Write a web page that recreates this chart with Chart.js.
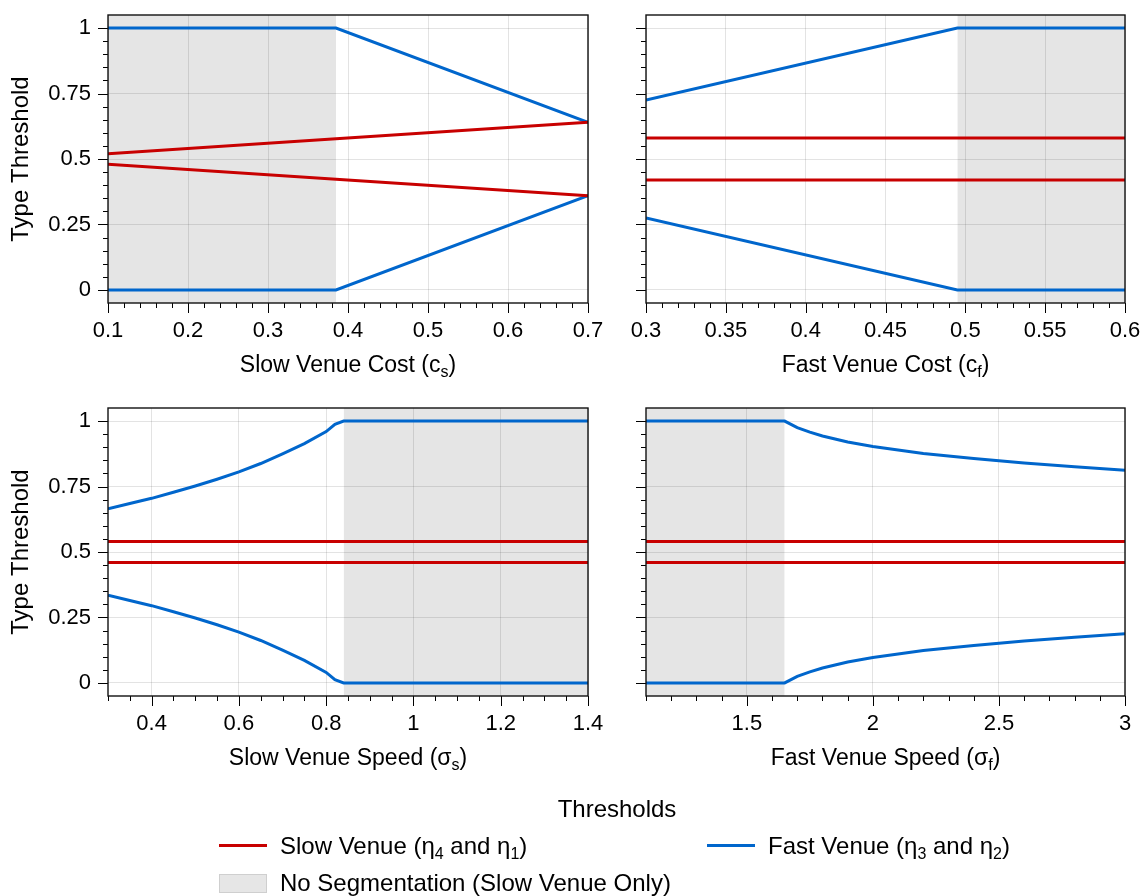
<!DOCTYPE html>
<html>
<head>
<meta charset="utf-8">
<script src="https://cdn.jsdelivr.net/npm/chart.js@4.4.0/dist/chart.umd.min.js"></script>
<style>
  body { margin: 0; background: #fff; }
  #wrap { position: relative; width: 1146px; height: 896px; overflow: hidden; font-family: "Liberation Sans", Arial, sans-serif; color: #000; }
  #wrap canvas { position: absolute; left: 0; top: 0; }
  .lg { position: absolute; font-size: 24px; line-height: 28px; white-space: nowrap; }
  .lg sub { font-size: 16px; vertical-align: -5px; line-height: 0; }
  .sw { position: absolute; }
</style>
</head>
<body>
<div id="wrap">
  <canvas id="c1" width="1146" height="896"></canvas>
  <canvas id="c2" width="1146" height="896"></canvas>
  <canvas id="c3" width="1146" height="896"></canvas>
  <canvas id="c4" width="1146" height="896"></canvas>

  <div class="lg" style="left:0;width:1234px;text-align:center;top:795px;">Thresholds</div>
  <div class="sw" style="left:219px;top:844px;width:48px;height:3px;background:#c80000;"></div>
  <div class="lg" style="left:280px;top:832px;">Slow Venue (η<sub>4</sub> and η<sub>1</sub>)</div>
  <div class="sw" style="left:707px;top:844px;width:48px;height:3px;background:#0066cc;"></div>
  <div class="lg" style="left:768px;top:832px;">Fast Venue (η<sub>3</sub> and η<sub>2</sub>)</div>
  <div class="sw" style="left:219px;top:874px;width:46px;height:17px;background:#e6e6e6;border:1px solid #cfcfcf;"></div>
  <div class="lg" style="left:280px;top:869px;">No Segmentation (Slow Venue Only)</div>
</div>
<script>
const red = '#c80000'
const blue = '#0066cc'
const shadeColor = 'rgba(0,0,0,0.1)'
const gridColor = 'rgba(0,0,0,0.11)'

// y axis (shared)
const yMin = -0.05, yMax = 1.05, yMinor = 0.05, yMajor = 0.25

// slow venue cost
const csX = [0.1, 0.385, 0.7]
const csSlowHi = [0.52, 0.577, 0.64]
const csSlowLo = [0.48, 0.423, 0.36]
const csFastHi = [1, 1, 0.64]
const csFastLo = [0, 0, 0.36]
const csShade = [0.1, 0.385]

// fast venue cost
const cfX = [0.3, 0.495, 0.6]
const cfSlowHi = [0.58, 0.58, 0.58]
const cfSlowLo = [0.42, 0.42, 0.42]
const cfFastHi = [0.725, 1, 1]
const cfFastLo = [0.275, 0, 0]
const cfShade = [0.495, 0.6]

// slow venue speed
const ssX = [0.3, 0.35, 0.4, 0.45, 0.5, 0.55, 0.6, 0.65, 0.7, 0.75, 0.8, 0.82, 0.84, 1.4]
const ssSlowHi = [0.54, 0.54, 0.54, 0.54, 0.54, 0.54, 0.54, 0.54, 0.54, 0.54, 0.54, 0.54, 0.54, 0.54]
const ssSlowLo = [0.46, 0.46, 0.46, 0.46, 0.46, 0.46, 0.46, 0.46, 0.46, 0.46, 0.46, 0.46, 0.46, 0.46]
const ssFastHi = [0.665, 0.685, 0.705, 0.728, 0.752, 0.778, 0.806, 0.838, 0.875, 0.914, 0.96, 0.988, 1, 1]
const ssFastLo = [0.335, 0.315, 0.295, 0.272, 0.248, 0.222, 0.194, 0.162, 0.125, 0.086, 0.04, 0.012, 0, 0]
const ssShade = [0.84, 1.4]

// fast venue speed
const sfX = [1.1, 1.65, 1.7, 1.75, 1.8, 1.9, 2.0, 2.2, 2.4, 2.6, 2.8, 3.0]
const sfSlowHi = [0.54, 0.54, 0.54, 0.54, 0.54, 0.54, 0.54, 0.54, 0.54, 0.54, 0.54, 0.54]
const sfSlowLo = [0.46, 0.46, 0.46, 0.46, 0.46, 0.46, 0.46, 0.46, 0.46, 0.46, 0.46, 0.46]
const sfFastHi = [1, 1, 0.975, 0.958, 0.943, 0.92, 0.903, 0.876, 0.857, 0.84, 0.826, 0.812]
const sfFastLo = [0, 0, 0.025, 0.042, 0.057, 0.08, 0.097, 0.124, 0.143, 0.16, 0.174, 0.188]
const sfShade = [1.1, 1.65]

const FONT = '"Liberation Sans", Arial, sans-serif'
const TICK_SIZE = 22
const TITLE_SIZE = 23
const SUB_SIZE = 16

function isMajor(v, step) {
  const q = v / step
  return Math.abs(q - Math.round(q)) < 1e-6
}
function fmt(v) {
  return String(parseFloat(v.toFixed(4)))
}
function pts(xs, ys) {
  return xs.map((x, i) => ({x: x, y: ys[i]}))
}
function line(xs, ys, color) {
  return {data: pts(xs, ys), borderColor: color, borderWidth: 3, pointRadius: 0, fill: false, order: 1}
}

function makePanel(id, p) {
  const W = 1146, H = 896
  const yW = p.yLabels ? 108 : 20
  const xH = 40
  const a = p.area

  const panelPlugin = {
    id: 'panel' + id,
    afterDraw(chart) {
      const ctx = chart.ctx
      const ca = chart.chartArea
      ctx.save()
      // tick marks, major and minor
      ctx.strokeStyle = '#000'
      ctx.lineWidth = 1
      ctx.beginPath()
      const ys = chart.scales.y
      ys.ticks.forEach(t => {
        if (t.value < -1e-9 || t.value > 1 + 1e-9) return
        const py = Math.round(ys.getPixelForValue(t.value)) + 0.5
        const len = isMajor(t.value, yMajor) ? 10 : 5
        ctx.moveTo(ca.left - len, py)
        ctx.lineTo(ca.left, py)
      })
      const xs = chart.scales.x
      xs.ticks.forEach(t => {
        const px = Math.round(xs.getPixelForValue(t.value)) + 0.5
        const len = isMajor(t.value, p.xMajor) ? 10 : 5
        ctx.moveTo(px, ca.bottom)
        ctx.lineTo(px, ca.bottom + len)
      })
      ctx.stroke()
      // frame
      ctx.lineWidth = 1.4
      ctx.strokeStyle = '#111'
      ctx.strokeRect(ca.left, ca.top, ca.right - ca.left, ca.bottom - ca.top)
      // x title with subscript
      ctx.fillStyle = '#000'
      ctx.textBaseline = 'alphabetic'
      ctx.textAlign = 'left'
      ctx.font = TITLE_SIZE + 'px ' + FONT
      const w1 = ctx.measureText(p.xTitle[0]).width
      const w3 = ctx.measureText(p.xTitle[2]).width
      ctx.font = SUB_SIZE + 'px ' + FONT
      const w2 = ctx.measureText(p.xTitle[1]).width
      let x = (ca.left + ca.right) / 2 - (w1 + w2 + w3) / 2
      const by = ca.bottom + 69
      ctx.font = TITLE_SIZE + 'px ' + FONT
      ctx.fillText(p.xTitle[0], x, by)
      x += w1
      ctx.font = SUB_SIZE + 'px ' + FONT
      ctx.fillText(p.xTitle[1], x, by + 5)
      x += w2
      ctx.font = TITLE_SIZE + 'px ' + FONT
      ctx.fillText(p.xTitle[2], x, by)
      ctx.restore()
    }
  }

  new Chart(document.getElementById(id), {
    type: 'line',
    data: {
      datasets: [
        line(p.x, p.slowHi, red),
        line(p.x, p.slowLo, red),
        line(p.x, p.fastHi, blue),
        line(p.x, p.fastLo, blue),
        {
          data: [{x: p.shade[0], y: yMax}, {x: p.shade[1], y: yMax}],
          fill: 'start', backgroundColor: shadeColor, borderWidth: 0, pointRadius: 0, order: 10
        }
      ]
    },
    options: {
      responsive: false,
      animation: false,
      layout: {padding: {left: a[0] - yW, top: a[1], right: W - a[2], bottom: H - a[3] - xH}},
      plugins: {legend: {display: false}, tooltip: {enabled: false}},
      elements: {line: {tension: 0}},
      scales: {
        x: {
          type: 'linear', min: p.xMin, max: p.xMax,
          afterFit: s => { s.height = xH },
          border: {display: false},
          grid: {
            drawTicks: true, tickLength: 15, tickColor: 'rgba(0,0,0,0)',
            color: c => isMajor(c.tick.value, p.xMajor) ? gridColor : 'rgba(0,0,0,0)'
          },
          ticks: {
            stepSize: p.xMinor, autoSkip: false, maxRotation: 0, padding: 0,
            color: '#000', font: {size: TICK_SIZE, family: FONT},
            callback: v => isMajor(v, p.xMajor) ? fmt(v) : ''
          }
        },
        y: {
          type: 'linear', min: yMin, max: yMax,
          afterFit: s => { s.width = yW },
          border: {display: false},
          grid: {
            drawTicks: true, tickLength: 17, tickColor: 'rgba(0,0,0,0)',
            color: c => isMajor(c.tick.value, yMajor) && c.tick.value > -0.01 && c.tick.value < 1.01 ? gridColor : 'rgba(0,0,0,0)'
          },
          title: {display: p.yLabels, text: 'Type Threshold', color: '#000', font: {size: 24, family: FONT}, padding: {top: 7, bottom: 0}},
          ticks: {
            stepSize: yMinor, autoSkip: false, padding: 0,
            color: '#000', font: {size: TICK_SIZE, family: FONT},
            callback: v => (p.yLabels && isMajor(v, yMajor) && v > -0.01 && v < 1.01) ? fmt(v) : ''
          }
        }
      }
    },
    plugins: [panelPlugin]
  })
}

makePanel('c1', {
  area: [108, 15, 588, 303], yLabels: true,
  xMin: 0.1, xMax: 0.7, xMinor: 0.02, xMajor: 0.1,
  x: csX, slowHi: csSlowHi, slowLo: csSlowLo, fastHi: csFastHi, fastLo: csFastLo, shade: csShade,
  xTitle: ['Slow Venue Cost (c', 's', ')']
})
makePanel('c2', {
  area: [646, 15, 1125, 303], yLabels: false,
  xMin: 0.3, xMax: 0.6, xMinor: 0.01, xMajor: 0.05,
  x: cfX, slowHi: cfSlowHi, slowLo: cfSlowLo, fastHi: cfFastHi, fastLo: cfFastLo, shade: cfShade,
  xTitle: ['Fast Venue Cost (c', 'f', ')']
})
makePanel('c3', {
  area: [108, 408, 588, 696], yLabels: true,
  xMin: 0.3, xMax: 1.4, xMinor: 0.05, xMajor: 0.2,
  x: ssX, slowHi: ssSlowHi, slowLo: ssSlowLo, fastHi: ssFastHi, fastLo: ssFastLo, shade: ssShade,
  xTitle: ['Slow Venue Speed (σ', 's', ')']
})
makePanel('c4', {
  area: [646, 408, 1125, 696], yLabels: false,
  xMin: 1.1, xMax: 3, xMinor: 0.1, xMajor: 0.5,
  x: sfX, slowHi: sfSlowHi, slowLo: sfSlowLo, fastHi: sfFastHi, fastLo: sfFastLo, shade: sfShade,
  xTitle: ['Fast Venue Speed (σ', 'f', ')']
})
</script>
</body>
</html>
